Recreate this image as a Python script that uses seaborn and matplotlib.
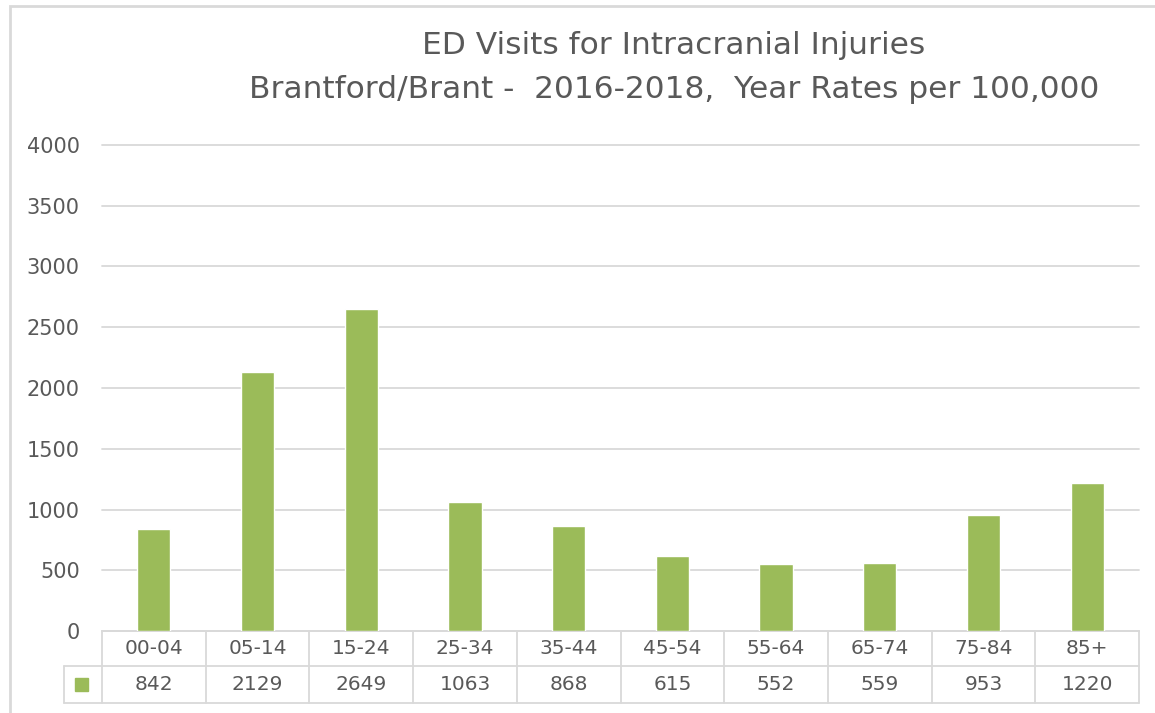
import matplotlib
matplotlib.use("Agg")
import matplotlib.pyplot as plt
import matplotlib.patches as mpatches
import matplotlib.transforms as mtransforms
import seaborn as sns
import pandas as pd

age_groups = ["00-04", "05-14", "15-24", "25-34", "35-44",
              "45-54", "55-64", "65-74", "75-84", "85+"]
rates = [842, 2129, 2649, 1063, 868, 615, 552, 559, 953, 1220]
y_ticks = [0, 500, 1000, 1500, 2000, 2500, 3000, 3500, 4000]

bar_color = "#9BBB59"
grid_color = "#D9D9D9"
text_color = "#595959"

sns.set_style("white")
plt.rcParams['font.family'] = ['DejaVu Sans']

df = pd.DataFrame({"age": age_groups, "rate": rates})

fig = plt.figure(figsize=(11.55, 7.13), dpi=100)
ax = fig.add_axes([102 / 1155, 1 - 631 / 713, 1037 / 1155, 486 / 713])

sns.barplot(data=df, x="age", y="rate", color=bar_color, width=0.32,
            saturation=1, ax=ax, zorder=3)

ax.set_xlim(-0.5, len(age_groups) - 0.5)
ax.set_ylim(0, 4000)
ax.set_yticks(y_ticks)
ax.set_yticklabels([str(t) for t in y_ticks], color=text_color, fontsize=15)
ax.tick_params(axis="y", length=0, pad=16)
ax.set_xticks([])
ax.set_xlabel("")
ax.set_ylabel("")
for s in ax.spines.values():
    s.set_visible(False)
ax.grid(axis="y", color=grid_color, linewidth=1.3, zorder=0)
for gl in ax.get_ygridlines():
    gl.set_clip_on(False)

# data table under the plot
tr = mtransforms.blended_transform_factory(ax.transData, ax.transAxes)
px = 1 / 486  # one pixel in axes height
row1 = -35 * px
row2 = -72 * px
left = -0.5
right = len(age_groups) - 0.5
legend_left = -0.5 - 38 / 103.7
lw = 1.3
ax.plot([left, right], [0, 0], color=grid_color, lw=lw, transform=tr, clip_on=False)
ax.plot([legend_left, right], [row1, row1], color=grid_color, lw=lw, transform=tr, clip_on=False)
ax.plot([legend_left, right], [row2, row2], color=grid_color, lw=lw, transform=tr, clip_on=False)
ax.plot([legend_left, legend_left], [row1, row2], color=grid_color, lw=lw, transform=tr, clip_on=False)
for i in range(len(age_groups) + 1):
    x = i - 0.5
    ax.plot([x, x], [0, row2], color=grid_color, lw=lw, transform=tr, clip_on=False)

for i, (a, v) in enumerate(zip(age_groups, rates)):
    ax.text(i, row1 / 2, a, ha="center", va="center", fontsize=14.5,
            color=text_color, transform=tr)
    ax.text(i, (row1 + row2) / 2, str(v), ha="center", va="center", fontsize=14.5,
            color=text_color, transform=tr)

sq = 13 * px
ax.add_patch(mpatches.Rectangle((-0.5 - 27 / 103.7, (row1 + row2) / 2 - sq / 2),
                                13 / 103.7, sq, color=bar_color, transform=tr,
                                clip_on=False))

fig.text(674 / 1155, 1 - 45 / 713, "ED Visits for Intracranial Injuries",
         ha="center", va="center", fontsize=22.5, color=text_color)
fig.text(674 / 1155, 1 - 89 / 713,
         "Brantford/Brant -  2016-2018,  Year Rates per 100,000",
         ha="center", va="center", fontsize=22.5, color=text_color)

# chart border
fig.patches.append(mpatches.Rectangle((10 / 1155, -0.02), 1.05, 1 - 6 / 713 + 0.02,
                                      fill=False, edgecolor=grid_color, lw=2,
                                      transform=fig.transFigure, figure=fig))

fig.savefig("out.png", dpi=100)
